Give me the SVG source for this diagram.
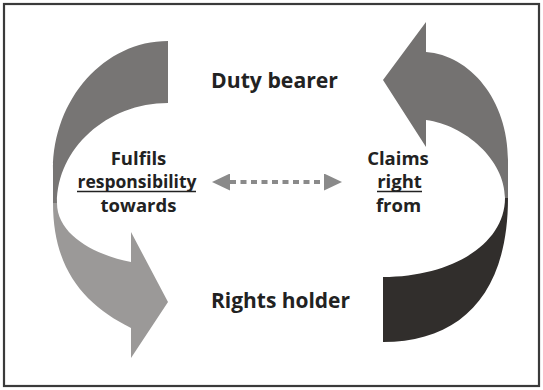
<svg xmlns="http://www.w3.org/2000/svg" width="543" height="390" viewBox="0 0 543 390">
<style>
.lbl{font-family:"Open Sans","Noto Sans","Liberation Sans",sans-serif;font-weight:700;fill:#222;}
.big{font-size:21px;}
.mid{font-size:18.5px;text-anchor:middle;}
.ul{stroke:#222;stroke-width:1.4;}
.g1{fill:#777574;}
.g2{fill:#9b9998;}
.g3{fill:#747271;}
.g4{fill:#312e2c;}
.dash{stroke:#8a8a8a;stroke-width:4;fill:none;stroke-dasharray:6 4.5;}
</style>
<defs>
<marker id="head" viewBox="0 0 18 17" refX="0" refY="8.5" markerWidth="18" markerHeight="17" markerUnits="userSpaceOnUse" orient="auto-start-reverse">
<path d="M0,0 L18,8.5 L0,17 Z" fill="#8a8a8a"/>
</marker>
</defs>
<rect x="0" y="0" width="543" height="390" fill="#fff"/>
<rect id="frame" x="4" y="4" width="535" height="382" fill="#fff" stroke="#3a3a3a" stroke-width="2.2"/>
<g id="connectors">
<g id="left-arrow">
<path class="g1" d="M168,41 L168,103 C106.7,103 57,148.7 57,203 L53,203 L53,170 C53,98.8 104.5,41 168,41 Z"/>
<path class="g2" d="M53,203 L57,203 C57,235 95,255 131,262 L131,232 L168,302 L131,358 L131,328 C85,305 53,270 53,203 Z"/>
</g>
<g id="right-arrow">
<path class="g3" d="M426,52 C470,55 508,100 508,160 L508,198 L505,198 C505,160 465,125 426,120 L426,147 L383,80 L426,22 Z"/>
<path class="g4" d="M505,198 L508,198 C508,295 460,342 383,342 L383,277 C450,277 505,245 505,198 Z"/>
</g>
<path id="mutual" class="dash" d="M230,182 L324,182" marker-start="url(#head)" marker-end="url(#head)"/>
</g>
<g id="duty-bearer">
<text class="lbl big" x="211" y="88" textLength="127" lengthAdjust="spacingAndGlyphs">Duty bearer</text>
</g>
<g id="rights-holder">
<text class="lbl big" x="211" y="308" textLength="139" lengthAdjust="spacingAndGlyphs">Rights holder</text>
</g>
<g id="fulfils-label">
<text class="lbl mid" x="138.5" y="165">Fulfils</text>
<text class="lbl mid" x="137" y="188" textLength="119" lengthAdjust="spacingAndGlyphs">responsibility</text>
<line class="ul" x1="77" y1="191.5" x2="196" y2="191.5"/>
<text class="lbl mid" x="138.5" y="212">towards</text>
</g>
<g id="claims-label">
<text class="lbl mid" x="398" y="165">Claims</text>
<text class="lbl mid" x="399.5" y="188">right</text>
<line class="ul" x1="377" y1="191.5" x2="422" y2="191.5"/>
<text class="lbl mid" x="398.5" y="212">from</text>
</g>
</svg>
